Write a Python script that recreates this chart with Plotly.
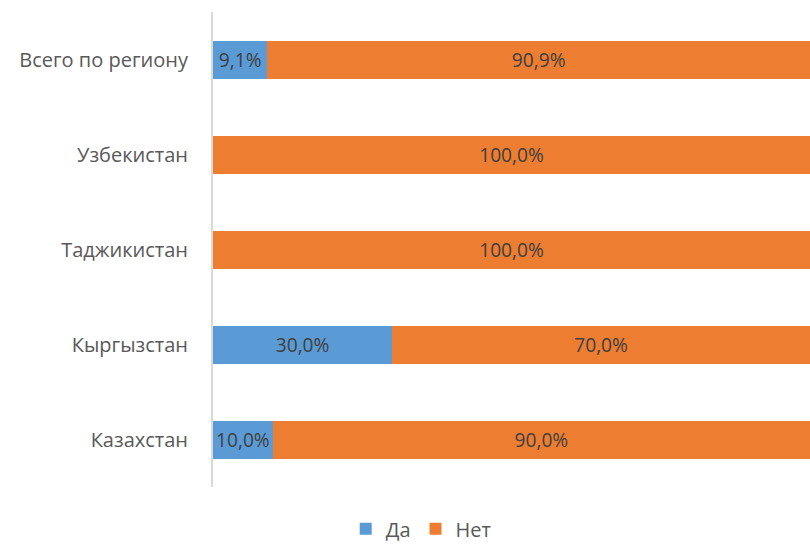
import plotly.graph_objects as go

categories = ["Казахстан", "Кыргызстан", "Таджикистан", "Узбекистан", "Всего по региону"]
da_values = [10.0, 30.0, 0.0, 0.0, 9.1]
net_values = [90.0, 70.0, 100.0, 100.0, 90.9]
series_names = ["Да", "Нет"]
colors = ["#5B9BD5", "#ED7D31"]

def labels(vals):
    return [("%.1f%%" % v).replace(".", ",") if v > 0 else "" for v in vals]

fig = go.Figure()
for name, vals, col in zip(series_names, [da_values, net_values], colors):
    fig.add_trace(go.Bar(
        y=categories, x=vals, name=name, orientation="h",
        marker=dict(color=col, line=dict(width=0)),
        text=labels(vals), textposition="inside", insidetextanchor="middle",
        textfont=dict(color="#404040", size=20, family="Open Sans"),
        hoverinfo="skip",
    ))

fig.update_layout(
    barmode="stack", bargap=0.6,
    width=810, height=544,
    margin=dict(l=213, r=0, t=12, b=57),
    paper_bgcolor="white", plot_bgcolor="white",
    font=dict(family="Open Sans", size=20, color="#595959"),
    xaxis=dict(range=[0, 100], visible=False, fixedrange=True),
    yaxis=dict(showline=True, linecolor="#D9D9D9", linewidth=2, showgrid=False,
               ticks="", ticklabelstandoff=19, tickfont=dict(size=20, color="#595959"),
               fixedrange=True),
    legend=dict(orientation="h", xref="container", yref="container",
                x=0.52, xanchor="center", y=0.028, yanchor="middle",
                itemwidth=30, tracegroupgap=0,
                font=dict(size=20, color="#595959"), traceorder="normal"),
    uniformtext=dict(mode="show", minsize=10),
)
fig.write_html("out.html", config={"displayModeBar": False},
               post_script="document.body.style.margin='0';document.body.style.overflow='hidden';")
